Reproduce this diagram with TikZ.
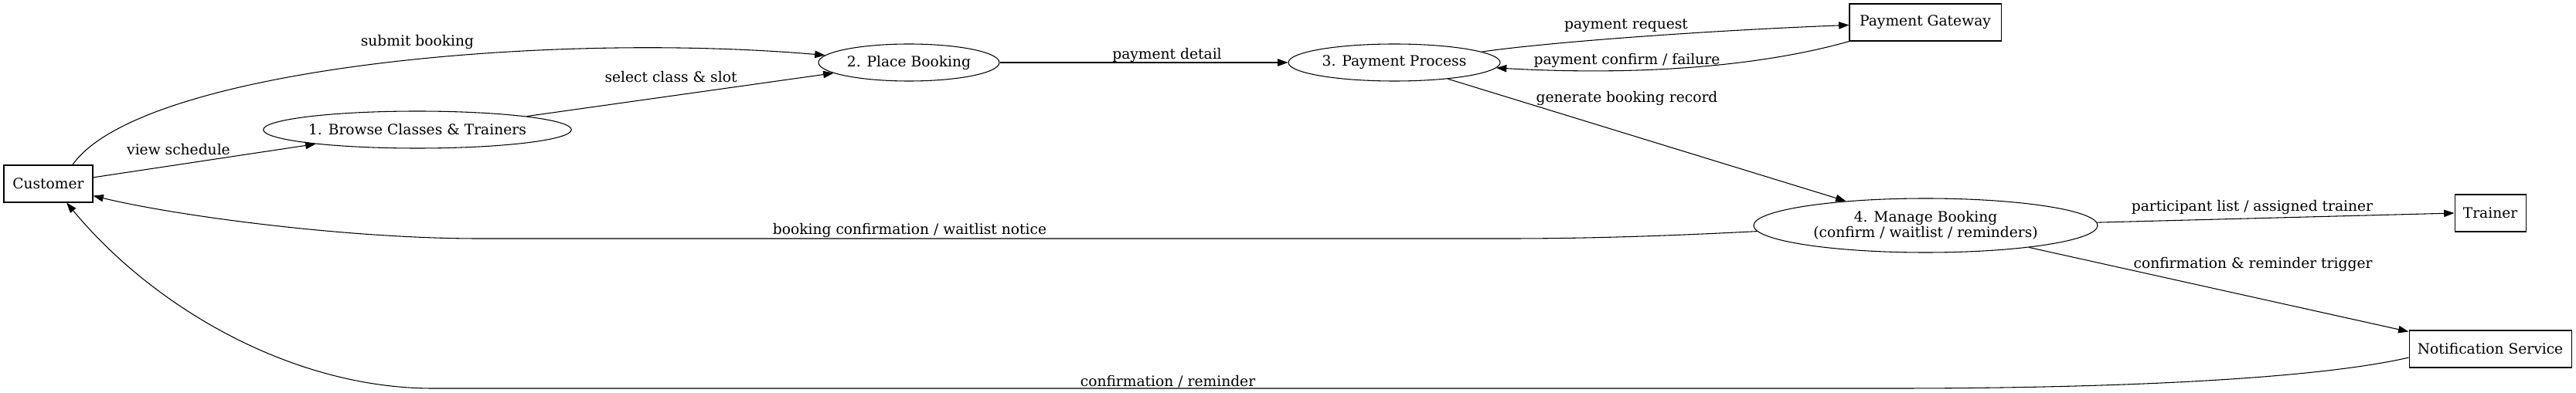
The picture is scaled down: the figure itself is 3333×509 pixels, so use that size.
\documentclass[tikz,border=0pt]{standalone}
\usepackage{fontspec}
\setmainfont{DejaVu Serif}
\usetikzlibrary{arrows.meta,shapes.geometric}
\begin{document}
\begin{tikzpicture}[x=0.75pt,y=-0.75pt,
  every node/.style={font=\fontsize{14}{15}\selectfont},
  ent/.style={draw,rectangle,line width=0.8pt,minimum height=36pt,inner sep=0pt},
  proc/.style={draw,ellipse,line width=0.8pt,minimum height=36pt,inner sep=0pt,align=center},
  lbl/.style={inner sep=0pt,anchor=center},
  flow/.style={line width=0.8pt,-{Triangle[length=10pt,width=7pt]}}
]
\useasboundingbox (0,0) rectangle (3333,509);
% nodes
\node[ent,minimum width=86.25pt] (cust) at (62.5,238) {Customer};
\node[proc,minimum width=295.5pt] (browse) at (540,168) {1. Browse Classes \& Trainers};
\node[proc,minimum width=175.5pt] (place) at (1176,81) {2. Place Booking};
\node[proc,minimum width=205.5pt] (pay) at (1804,81) {3. Payment Process};
\node[ent,minimum width=147pt] (gate) at (2491,29) {Payment Gateway};
\node[proc,minimum width=333.75pt,minimum height=52.5pt] (manage) at (2491.5,292) {4. Manage Booking\\(confirm / waitlist / reminders)};
\node[ent,minimum width=69pt] (trainer) at (3222,276) {Trainer};
\node[ent,minimum width=157.5pt] (notif) at (3222,452) {Notification Service};
% edges
\draw[flow] (cust.8) -- (browse.188);
\draw[flow] (cust.38) .. controls (180,90) and (700,40) .. (place.175);
\draw[flow] (browse.7.7) -- (place.188);
\draw[flow] (place.east) -- (pay.west);
\draw[flow] (pay.7) .. controls (2000,55) and (2200,40) .. (gate.182);
\draw[flow] (gate.194) .. controls (2300,80) and (2150,100) .. (pay.357);
\draw[flow] (pay.343.5) -- (manage.163.5);
\draw[flow] (manage.182) .. controls (2150,306) and (2050,309) .. (1950,309) -- (620,309) .. controls (450,309) and (230,280) .. (cust.345);
\draw[flow] (manage.1.3) -- (trainer.west);
\draw[flow] (manage.348.3) -- (notif.168);
\draw[flow] (notif.186.5) .. controls (3000,490) and (2750,503) .. (2450,503) -- (560,503) .. controls (380,503) and (200,400) .. (cust.314);
% labels
\node[lbl] (l1) at (540,54) {submit booking};
\node[lbl] (l2) at (231,194) {view schedule};
\node[lbl] (l3) at (868,100) {select class \& slot};
\node[lbl] (l4) at (1510,71) {payment detail};
\node[lbl] (l5) at (2104,33) {payment request};
\node[lbl] (l6) at (2105,78) {payment confirm / failure};
\node[lbl] (l7) at (2105,127) {generate booking record};
\node[lbl] (l8) at (1177,298) {booking confirmation / waitlist notice};
\node[lbl] (l9) at (2914,268) {participant list / assigned trainer};
\node[lbl] (l10) at (2915,342) {confirmation \& reminder trigger};
\node[lbl] (l11) at (1511,494) {confirmation / reminder};
\end{tikzpicture}
\end{document}
